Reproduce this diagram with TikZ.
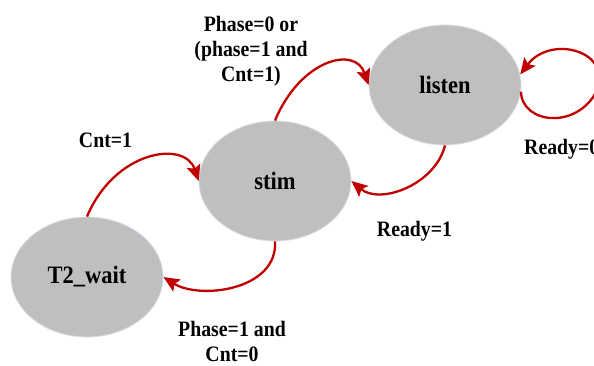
\documentclass[tikz,border=0pt]{standalone}
\usepackage{fontspec}
\usetikzlibrary{shapes.geometric,arrows.meta}
\newfontfamily\diagfont{Liberation Serif}[FakeStretch=0.9]
\definecolor{statefill}{HTML}{BFBFBF}
\definecolor{stateedge}{HTML}{D5DFEC}
\definecolor{edgered}{HTML}{C00000}
\tikzset{
  state/.style={ellipse, fill=statefill, draw=stateedge, line width=0.8pt,
    minimum width=152pt, minimum height=120pt, inner sep=0pt,
    font=\diagfont\bfseries\fontsize{25}{30}\selectfont},
  trans/.style={draw=edgered, line width=2.3pt,
    -{Stealth[length=16pt,width=14pt,inset=3pt]}},
  lbl/.style={inner sep=0pt, align=center,
    font=\diagfont\bfseries\fontsize{22}{25}\selectfont}
}
\begin{document}
\begin{tikzpicture}[x=1pt,y=-1pt]
  \useasboundingbox (0,0) rectangle (594,365);
  \clip (0,0) rectangle (594,365);

  % states
  \node[state] (w) at (87,277)  {T2\_wait};
  \node[state] (s) at (275,181) {stim};
  \node[state] (l) at (445,85)  {listen};

  % transitions
  \draw[trans] (w.north) .. controls (115,150) and (185,140) .. (s.west);
  \draw[trans] (s.north) .. controls (300,60) and (355,45) .. (l.west);
  \draw[trans] (l.south) .. controls (435,185) and (380,205) .. (s.east);
  \draw[trans] (s.south) .. controls (278,290) and (200,300) .. (w.east);
  \coordinate (loopfar) at (598,88);
  \draw[trans] (l.-5) .. controls (522,125) and (580,130) .. (loopfar)
               .. controls (610,50) and (550,35) .. (l.8);

  % transition labels
  \node[lbl, anchor=north] (t1) at (251,16) {Phase=0 or\\(phase=1 and\\Cnt=1)};
  \node[lbl, anchor=base] (t2) at (105.5,147) {Cnt=1};
  \node[lbl, anchor=base] (t3) at (414.5,236) {Ready=1};
  \node[lbl, anchor=base west] (t4) at (524,154) {Ready=0};
  \node[lbl, anchor=north] (t5) at (232,321) {Phase=1 and\\Cnt=0};
\end{tikzpicture}
\end{document}
